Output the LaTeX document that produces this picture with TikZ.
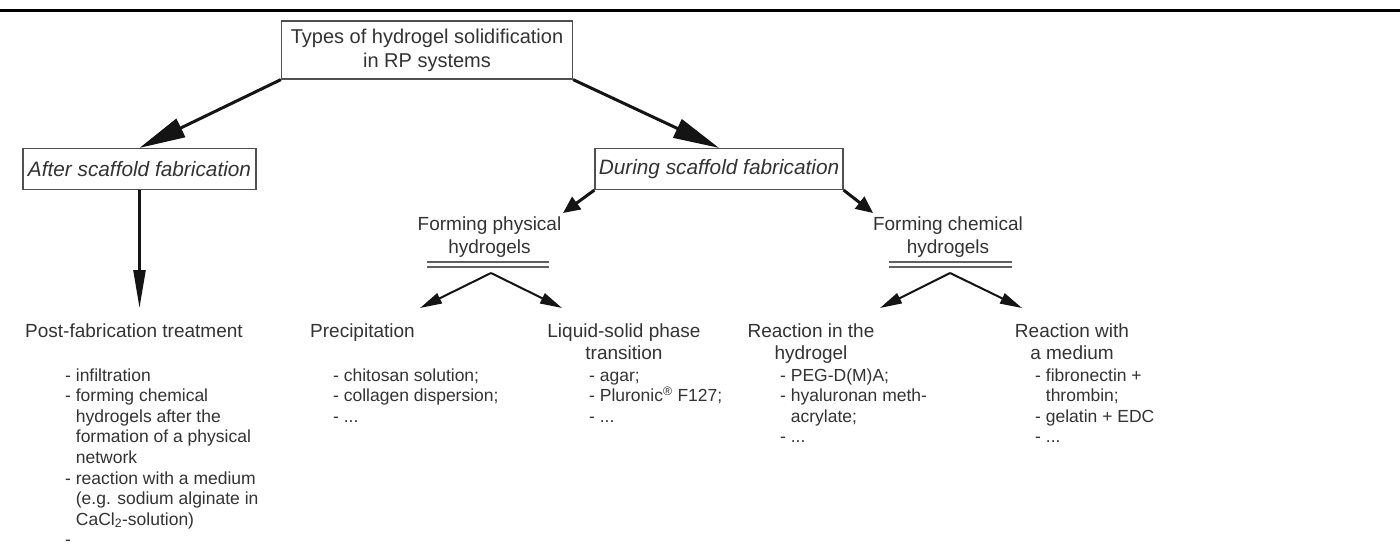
\documentclass[tikz,border=0pt]{standalone}
\usepackage{fontspec}
\setmainfont{Liberation Sans}
\usetikzlibrary{arrows.meta}
\definecolor{txt}{HTML}{333333}
\definecolor{boxc}{HTML}{505050}
\definecolor{dblc}{HTML}{606060}
\newcommand\fTop{\fontsize{20}{24}\selectfont}
\newcommand\fIt{\fontsize{20.8}{24}\selectfont\itshape}
\newcommand\fHead{\fontsize{19}{22}\selectfont}
\newcommand\fList{\fontsize{17.5}{21}\selectfont}
\newcommand\mydots{...}
\begin{document}
\begin{tikzpicture}[x=1pt,y=-1pt,
  every node/.style={text=txt},
  box/.style={draw=boxc,line width=1.2pt,inner sep=0pt,align=center},
  hd/.style={anchor=base,inner sep=0pt,font=\fHead},
  lst/.style={anchor=base west,inner sep=0pt,font=\fList},
  bigarrow/.style={draw=black!92,line width=3pt,-{Triangle[length=46pt,width=20pt]}},
  vertarrow/.style={draw=black!92,line width=2.4pt,-{Triangle[length=38pt,width=12pt]}},
  medarrow/.style={draw=black!92,line width=3pt,-{Triangle[length=17pt,width=15pt]}},
  smallarrow/.style={draw=black!92,line width=2pt,-{Triangle[length=22pt,width=11pt]}},
  dbl/.style={draw=dblc,line width=1.1pt}
]
\useasboundingbox (0,0) rectangle (1400,547);
\fill[white] (0,0) rectangle (1400,547);

% top rule
\coordinate (ruleL) at (0,10);
\coordinate (ruleR) at (1400,10);
\draw[line width=3pt,black] (ruleL) -- (ruleR);

% boxes
\node[box,minimum width=291pt,minimum height=58pt,font=\fTop] (top) at (427,50)
  {Types of hydrogel solidification\\in RP systems};
\node[box,minimum width=233pt,minimum height=41pt,font=\fIt] (after) at (139.5,169)
  {After scaffold fabrication};
\node[box,minimum width=248pt,minimum height=41pt,font=\fIt] (during) at (719,169)
  {During scaffold fabrication};

% second level headings
\node[hd] (fp1) at (489.5,230) {Forming physical};
\node[hd] (fp2) at (489.5,253) {hydrogels};
\node[hd] (fc1) at (948,230) {Forming chemical};
\node[hd] (fc2) at (948,253) {hydrogels};

% double rules
\coordinate (fpdA) at (427,262); \coordinate (fpdB) at (549,262);
\coordinate (fpdC) at (427,267); \coordinate (fpdD) at (549,267);
\coordinate (fcdA) at (889,262); \coordinate (fcdB) at (1012,262);
\coordinate (fcdC) at (889,267); \coordinate (fcdD) at (1012,267);
\draw[dbl] (fpdA) -- (fpdB);
\draw[dbl] (fpdC) -- (fpdD);
\draw[dbl] (fcdA) -- (fcdB);
\draw[dbl] (fcdC) -- (fcdD);

% third level headings
\node[hd,anchor=base west] (post) at (25,337) {Post-fabrication treatment};
\node[hd,anchor=base west] (prec) at (310,337) {Precipitation};
\node[hd] (liq1) at (624,337) {Liquid-solid phase};
\node[hd] (liq2) at (624,359) {transition};
\node[hd] (rin1) at (811,337) {Reaction in the};
\node[hd] (rin2) at (811,359) {hydrogel};
\node[hd] (rwm1) at (1072,337) {Reaction with};
\node[hd] (rwm2) at (1072,359) {a medium};

% lists
\foreach \t [count=\i] in {{- infiltration},{- forming chemical},{\phantom{- }hydrogels after the},
  {\phantom{- }formation of a physical},{\phantom{- }network},{- reaction with a medium},
  {\phantom{- }(e.g. sodium alginate in},{\phantom{- }CaCl\textsubscript{2}-solution)},{-}}
  \node[lst] (postl\i) at (65,{381+20.6*(\i-1)}) {\t};
\foreach \t [count=\i] in {{- chitosan solution;},{- collagen dispersion;},{- \mydots}}
  \node[lst] (precl\i) at (333,{381+20.6*(\i-1)}) {\t};
\foreach \t [count=\i] in {{- agar;},{- Pluronic\textsuperscript{®} F127;},{- \mydots}}
  \node[lst] (liql\i) at (589,{381+20.6*(\i-1)}) {\t};
\foreach \t [count=\i] in {{- PEG-D(M)A;},{- hyaluronan meth-},{\phantom{- }acrylate;},{- \mydots}}
  \node[lst] (rinl\i) at (780,{381+20.6*(\i-1)}) {\t};
\foreach \t [count=\i] in {{- fibronectin +},{\phantom{- }thrombin;},{- gelatin + EDC},{- \mydots}}
  \node[lst] (rwml\i) at (1035,{381+20.6*(\i-1)}) {\t};

% arrow end points
\coordinate (posttip) at (139.5,308);
\coordinate (fptip) at (563,213);
\coordinate (fctip) at (873,213);
\coordinate (fpapex) at (491,273);
\coordinate (fcapex) at (950,273);
\coordinate (prectip) at (420,308);
\coordinate (liqtip) at (562,308);
\coordinate (rintip) at (880,308);
\coordinate (rwmtip) at (1022,308);

% connectors
\draw[bigarrow] (top.south west) -- (after.north);
\draw[bigarrow] (top.south east) -- (during.north);
\draw[vertarrow] (after.south) -- (posttip);
\draw[medarrow] (during.south west) -- (fptip);
\draw[medarrow] (during.south east) -- (fctip);
\draw[smallarrow] (fpapex) -- (prectip);
\draw[smallarrow] (fpapex) -- (liqtip);
\draw[smallarrow] (fcapex) -- (rintip);
\draw[smallarrow] (fcapex) -- (rwmtip);
\end{tikzpicture}
\end{document}
